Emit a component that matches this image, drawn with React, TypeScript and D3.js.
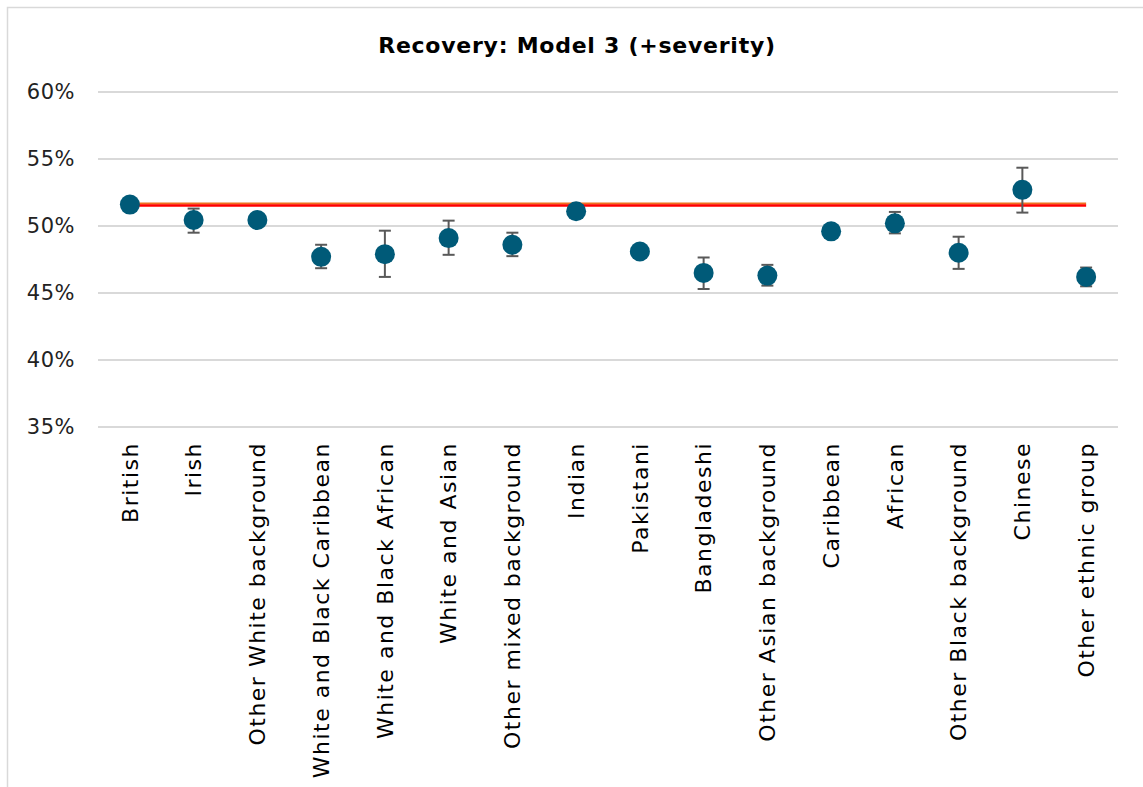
import React from "react";
import * as d3 from "d3";

const categories = [
  "British",
  "Irish",
  "Other White background",
  "White and Black Caribbean",
  "White and Black African",
  "White and Asian",
  "Other mixed background",
  "Indian",
  "Pakistani",
  "Bangladeshi",
  "Other Asian background",
  "Caribbean",
  "African",
  "Other Black background",
  "Chinese",
  "Other ethnic group",
];
const estimates = [51.6, 50.45, 50.45, 47.7, 47.9, 49.1, 48.6, 51.1, 48.1, 46.5, 46.3, 49.6, 50.2, 48.0, 52.7, 46.2];
const lower = [51.6, 49.5, 50.45, 46.85, 46.2, 47.85, 47.75, 51.1, 48.1, 45.3, 45.55, 49.6, 49.45, 46.8, 51.0, 45.5];
const upper = [51.6, 51.3, 50.45, 48.6, 49.65, 50.4, 49.5, 51.1, 48.1, 47.65, 47.1, 49.6, 51.05, 49.2, 54.35, 46.9];
const baseline = 51.6;
const yTicks = [35, 40, 45, 50, 55, 60];
const title = "Recovery: Model 3 (+severity)";

const FONT = "'DejaVu Sans', sans-serif";

export default function App() {
  const W = 1143;
  const H = 787;
  const left = 98;
  const right = 1118;
  const top = 92;
  const bottom = 427;

  const x = d3.scaleBand<string>().domain(categories).range([left, right]);
  const y = d3.scaleLinear().domain([35, 60]).range([bottom, top]);
  const cx = (c: string) => (x(c) as number) + x.bandwidth() / 2;

  const lineGen = d3
    .line<string>()
    .x((c) => cx(c))
    .y(() => y(baseline));

  return (
    <svg
      width={W}
      height={H}
      style={{ position: "absolute", left: 0, top: 0, background: "#fff" }}
      fontFamily={FONT}
    >
      <rect x={7.5} y={7.5} width={W + 10} height={H + 10} fill="#fff" stroke="#D9D9D9" strokeWidth={1.5} />
      <text x={577} y={53} textAnchor="middle" fontSize={22} fontWeight="bold" letterSpacing={0.75} fill="#000">
        {title}
      </text>
      {yTicks.map((t) => (
        <g key={t}>
          <line x1={left} x2={right} y1={y(t)} y2={y(t)} stroke="#D9D9D9" strokeWidth={2} />
          <text x={75} y={y(t)} dy="0.35em" textAnchor="end" fontSize={21} letterSpacing={0.5} fill="#222">
            {t}%
          </text>
        </g>
      ))}
      <path d={lineGen(categories) || ""} stroke="#F07020" strokeWidth={2} fill="none" transform="translate(0,-1)" />
      <path d={lineGen(categories) || ""} stroke="#FF0000" strokeWidth={2.5} fill="none" transform="translate(0,1)" />
      {categories.map((c, i) => {
        const px = cx(c);
        const hasErr = upper[i] - lower[i] > 0.05;
        return (
          <g key={c}>
            {hasErr && (
              <g stroke="#595959" strokeWidth={2}>
                <line x1={px} x2={px} y1={y(upper[i])} y2={y(lower[i])} />
                <line x1={px - 6} x2={px + 6} y1={y(upper[i])} y2={y(upper[i])} />
                <line x1={px - 6} x2={px + 6} y1={y(lower[i])} y2={y(lower[i])} />
              </g>
            )}
            <circle cx={px} cy={y(estimates[i])} r={10} fill="#005A78" />
            <text
              transform={`translate(${px},442) rotate(-90)`}
              dy="0.35em"
              textAnchor="end"
              fontSize={22}
              letterSpacing={1.5}
              fill="#000"
            >
              {c}
            </text>
          </g>
        );
      })}
    </svg>
  );
}
